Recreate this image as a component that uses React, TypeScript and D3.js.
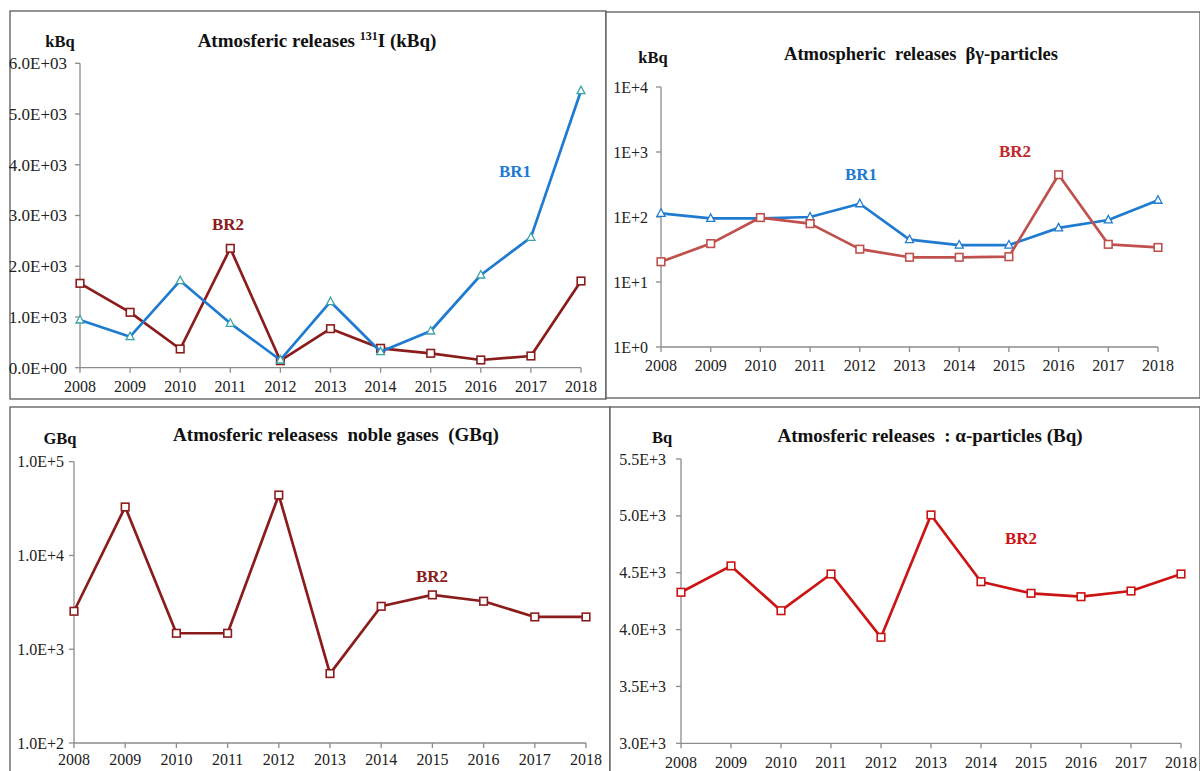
import React from "react";
import * as d3 from "d3";

// Reporting years shared by all four charts
const years = [2008, 2009, 2010, 2011, 2012, 2013, 2014, 2015, 2016, 2017, 2018];

// 131I atmospheric releases, kBq
const iodineBR1 = [940, 611, 1715, 875, 152, 1301, 315, 723, 1827, 2570, 5460];
const iodineBR2 = [1663, 1092, 369, 2353, 138, 769, 382, 284, 152, 231, 1709];
const iodineTicks = [0, 1000, 2000, 3000, 4000, 5000, 6000];

// beta-gamma particle releases, kBq (log scale)
const betaGammaBR1 = [114, 95, 95, 100, 160, 45, 37, 37, 68, 90, 181];
const betaGammaBR2 = [20.5, 39, 98, 79, 32, 24, 24, 24.5, 447, 38, 34];
const betaGammaTicks = [1, 10, 100, 1000, 10000];

// noble gas releases, GBq (log scale)
const nobleGasBR2 = [2540, 32900, 1480, 1480, 44100, 550, 2870, 3800, 3250, 2210, 2210];
const nobleGasTicks = [100, 1000, 10000, 100000];

// alpha particle releases, Bq
const alphaBR2 = [4328, 4560, 4166, 4489, 3932, 5008, 4421, 4319, 4289, 4339, 4489];
const alphaTicks = [3000, 3500, 4000, 4500, 5000, 5500];

const FONT = "Liberation Serif";
const AXIS = "#8c8c8c";

const BLUE = "#1f7bd0";
const TEAL = "#3aa3a8";
const DARK_RED = "#8b1c1c";
const SOFT_RED = "#c0504d";
const RED = "#cc1414";

type Series = { values: number[]; color: string; marker: "square" | "triangle"; markerColor: string };
type Label = { text: string; x: number; y: number; color: string };

type PanelProps = {
  frame: [number, number, number, number];
  xRange: [number, number];
  yRange: [number, number]; // bottom, top
  log: boolean;
  domain: [number, number];
  ticks: number[];
  fmt: (v: number) => string;
  tickGap: number;
  tickFont: number;
  yearBaseline: number;
  title: React.ReactNode;
  titleX: number;
  titleY: number;
  titleFont: number;
  unit: string;
  unitX: number;
  unitY: number;
  series: Series[];
  labels: Label[];
};

function expFmt(v: number, digits: number, pad: boolean) {
  if (v === 0) return pad ? "0.0E+00" : "0";
  const e = Math.floor(Math.log10(v) + 1e-9);
  const m = v / Math.pow(10, e);
  const es = pad ? String(e).padStart(2, "0") : String(e);
  return (digits > 0 ? m.toFixed(digits) : m.toFixed(0)) + "E+" + es;
}

function Panel(p: PanelProps) {
  const x = d3.scalePoint<number>().domain(years).range(p.xRange);
  const y = p.log
    ? d3.scaleLog().domain(p.domain).range(p.yRange)
    : d3.scaleLinear().domain(p.domain).range(p.yRange);
  const [fx, fy, fw, fh] = p.frame;
  const x0 = p.xRange[0];
  const yb = p.yRange[0];
  const line = d3
    .line<number>()
    .x((_, i) => x(years[i]) as number)
    .y((d) => y(d));
  return (
    <g>
      <rect x={fx} y={fy} width={fw} height={fh} fill="#fff" stroke="#5a5a5a" strokeWidth={1.3} />
      <text
        x={p.titleX}
        y={p.titleY}
        textAnchor="middle"
        fontFamily={FONT}
        fontWeight="bold"
        fontSize={p.titleFont}
        fill="#111"
        style={{ whiteSpace: "pre" }}
      >
        {p.title}
      </text>
      <text x={p.unitX} y={p.unitY} textAnchor="middle" fontFamily={FONT} fontWeight="bold" fontSize={16.5} fill="#111">
        {p.unit}
      </text>
      {/* y axis */}
      <line x1={x0} x2={x0} y1={p.yRange[1]} y2={yb} stroke={AXIS} strokeWidth={1.3} />
      {p.ticks.map((t) => (
        <g key={t}>
          <line x1={x0 - 5} x2={x0} y1={y(t)} y2={y(t)} stroke={AXIS} strokeWidth={1.3} />
          <text x={x0 - p.tickGap} y={y(t)} dy="0.35em" textAnchor="end" fontFamily={FONT} fontSize={p.tickFont} fill="#222">
            {p.fmt(t)}
          </text>
        </g>
      ))}
      {/* x axis */}
      <line x1={p.xRange[0]} x2={p.xRange[1]} y1={yb} y2={yb} stroke={AXIS} strokeWidth={1.3} />
      {years.map((yr) => (
        <g key={yr}>
          <line x1={x(yr)} x2={x(yr)} y1={yb} y2={yb + 5} stroke={AXIS} strokeWidth={1.3} />
          <text x={x(yr)} y={p.yearBaseline} textAnchor="middle" fontFamily={FONT} fontSize={16} fill="#222">
            {yr}
          </text>
        </g>
      ))}
      {p.series.map((s, si) => (
        <g key={si}>
          <path d={line(s.values) || ""} fill="none" stroke={s.color} strokeWidth={2.7} strokeLinejoin="round" />
          {s.values.map((v, i) => {
            const cx = x(years[i]) as number;
            const cy = y(v);
            return s.marker === "square" ? (
              <rect key={i} x={cx - 3.8} y={cy - 3.8} width={7.6} height={7.6} fill="#fff" stroke={s.markerColor} strokeWidth={1.6} />
            ) : (
              <path
                key={i}
                d={`M${cx},${cy - 4.5}L${cx + 4},${cy + 3}L${cx - 4},${cy + 3}Z`}
                fill="#fff"
                stroke={s.markerColor}
                strokeWidth={1.3}
              />
            );
          })}
        </g>
      ))}
      {p.labels.map((l, i) => (
        <text key={i} x={l.x} y={l.y} textAnchor="middle" fontFamily={FONT} fontWeight="bold" fontSize={17} fill={l.color}>
          {l.text}
        </text>
      ))}
    </g>
  );
}

export default function App() {
  return (
    <svg width={1200} height={771} style={{ position: "absolute", left: 0, top: 0, background: "#fff" }}>
      <rect x={0} y={0} width={1200} height={771} fill="#fff" />
      <Panel
        frame={[10, 11, 596, 388]}
        xRange={[80, 581]}
        yRange={[367.7, 63.3]}
        log={false}
        domain={[0, 6000]}
        ticks={iodineTicks}
        fmt={(v) => expFmt(v, 1, true)}
        tickGap={13}
        tickFont={17}
        yearBaseline={392}
        title={
          <>
            Atmosferic releases <tspan fontSize={12} dy={-7}>131</tspan>
            <tspan dy={7}>I (kBq)</tspan>
          </>
        }
        titleX={317}
        titleY={47}
        titleFont={19}
        unit="kBq"
        unitX={60}
        unitY={47}
        series={[
          { values: iodineBR2, color: DARK_RED, marker: "square", markerColor: DARK_RED },
          { values: iodineBR1, color: BLUE, marker: "triangle", markerColor: TEAL },
        ]}
        labels={[
          { text: "BR2", x: 228, y: 230, color: DARK_RED },
          { text: "BR1", x: 515, y: 177, color: BLUE },
        ]}
      />
      <Panel
        frame={[606, 12, 594, 386]}
        xRange={[661, 1158]}
        yRange={[347, 87]}
        log={true}
        domain={[1, 10000]}
        ticks={betaGammaTicks}
        fmt={(v) => expFmt(v, 0, false)}
        tickGap={13}
        tickFont={16}
        yearBaseline={371}
        title="Atmospheric  releases  βγ-particles"
        titleX={921}
        titleY={60}
        titleFont={18.5}
        unit="kBq"
        unitX={653}
        unitY={63}
        series={[
          { values: betaGammaBR1, color: BLUE, marker: "triangle", markerColor: BLUE },
          { values: betaGammaBR2, color: SOFT_RED, marker: "square", markerColor: SOFT_RED },
        ]}
        labels={[
          { text: "BR1", x: 861, y: 180, color: BLUE },
          { text: "BR2", x: 1015, y: 157, color: "#c0282a" },
        ]}
      />
      <Panel
        frame={[10, 407, 600, 380]}
        xRange={[74, 586]}
        yRange={[743, 461.7]}
        log={true}
        domain={[100, 100000]}
        ticks={nobleGasTicks}
        fmt={(v) => expFmt(v, 1, false)}
        tickGap={10}
        tickFont={16}
        yearBaseline={765}
        title="Atmosferic releasess  noble gases  (GBq)"
        titleX={336}
        titleY={441}
        titleFont={19}
        unit="GBq"
        unitX={60}
        unitY={444}
        series={[{ values: nobleGasBR2, color: DARK_RED, marker: "square", markerColor: DARK_RED }]}
        labels={[{ text: "BR2", x: 432, y: 582, color: DARK_RED }]}
      />
      <Panel
        frame={[610, 407, 590, 380]}
        xRange={[681, 1181]}
        yRange={[743.3, 459]}
        log={false}
        domain={[3000, 5500]}
        ticks={alphaTicks}
        fmt={(v) => expFmt(v, 1, false)}
        tickGap={15}
        tickFont={16}
        yearBaseline={768}
        title="Atmosferic releases  : α-particles (Bq)"
        titleX={930}
        titleY={442}
        titleFont={19}
        unit="Bq"
        unitX={662}
        unitY={443}
        series={[{ values: alphaBR2, color: RED, marker: "square", markerColor: RED }]}
        labels={[{ text: "BR2", x: 1021, y: 544, color: RED }]}
      />
    </svg>
  );
}
